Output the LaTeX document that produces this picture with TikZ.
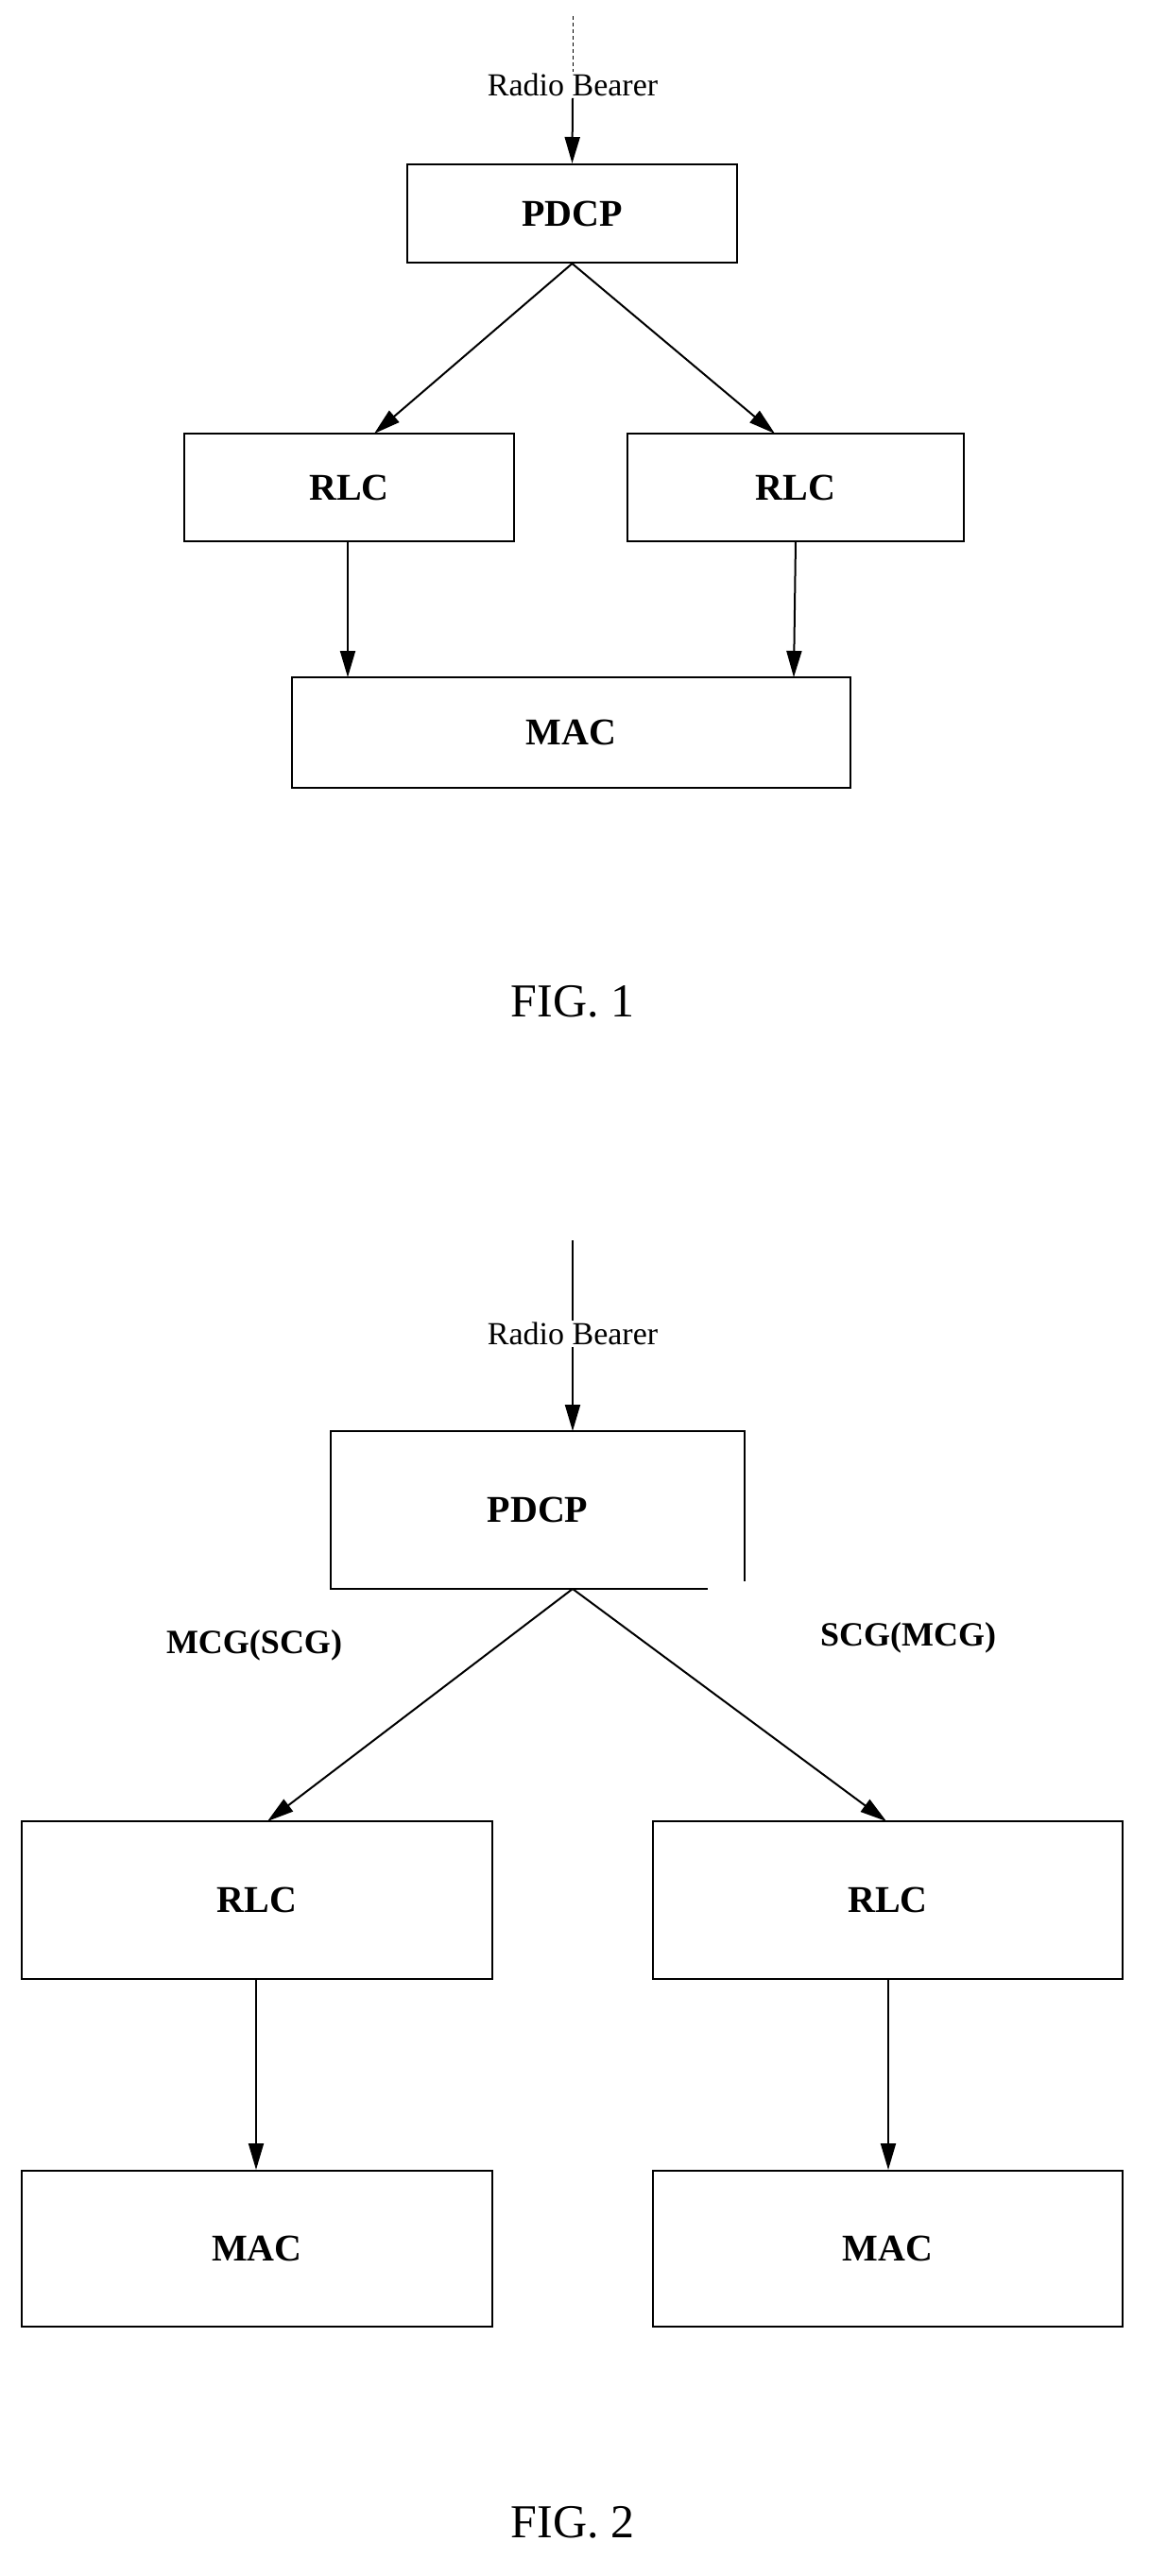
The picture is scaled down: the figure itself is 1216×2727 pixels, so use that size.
\documentclass[tikz,border=0pt]{standalone}
\usepackage{fontspec}
\setmainfont{Liberation Serif}
\usetikzlibrary{arrows.meta}
\begin{document}
\begin{tikzpicture}[x=1pt,y=-1pt,line width=2pt,
  box/.style={draw,inner sep=0pt,font=\fontsize{40}{40}\selectfont\bfseries},
  lbl/.style={font=\fontsize{34}{34}\selectfont},
  arr/.style={-{Triangle[length=28pt,width=16pt]}}]
  \useasboundingbox (0,0) rectangle (1216,2727);

  %------ FIG. 1
  \coordinate (top1) at (606,17);
  \node[lbl,fill=white,inner sep=1pt] (rb1) at (606,90) {Radio Bearer};
  \node[box,minimum width=349pt,minimum height=104pt] (pdcp1) at (605.5,226) {PDCP};
  \node[box,minimum width=349pt,minimum height=114pt] (rlc1a) at (369.5,516) {RLC};
  \node[box,minimum width=356pt,minimum height=114pt] (rlc1b) at (842,516) {RLC};
  \node[box,minimum width=591pt,minimum height=117pt] (mac1) at (604.5,775.5) {MAC};
  \node[lbl,font=\fontsize{50}{50}\selectfont] (fig1) at (606,1060) {FIG. 1};

  \draw[dash pattern=on 4pt off 3pt,line width=1pt] (top1) -- (rb1.north);
  \draw[arr] (rb1.south) -- (pdcp1.north);
  \draw[arr] (pdcp1.south) -- (396,459);
  \draw[arr] (pdcp1.south) -- (820,459);
  \draw[arr] (368,573) -- (368,717);
  \draw[arr] (842,573) -- (840,717);

  %------ FIG. 2
  \coordinate (top2) at (606,1313);
  \node[lbl,fill=white,inner sep=1pt] (rb2) at (606,1412) {Radio Bearer};
  \node[box,draw=none,minimum width=438pt,minimum height=167pt] (pdcp2) at (569,1598.5) {PDCP};
  \draw (749,1682) -- (350,1682) -- (350,1515) -- (788,1515) -- (788,1674);
  \node[box,draw=none] (mcg) at (269,1742) {\fontsize{36}{36}\selectfont MCG(SCG)};
  \node[box,draw=none] (scg) at (961,1734) {\fontsize{36}{36}\selectfont SCG(MCG)};
  \node[box,minimum width=498pt,minimum height=167pt] (rlc2a) at (272,2011.5) {RLC};
  \node[box,minimum width=497pt,minimum height=167pt] (rlc2b) at (939.5,2011.5) {RLC};
  \node[box,minimum width=498pt,minimum height=165pt] (mac2a) at (272,2380.5) {MAC};
  \node[box,minimum width=497pt,minimum height=165pt] (mac2b) at (939.5,2380.5) {MAC};
  \node[lbl,font=\fontsize{50}{50}\selectfont] (fig2) at (606,2670) {FIG. 2};

  \draw (top2) -- (rb2.north);
  \draw[arr] (rb2.south) -- (606,1515);
  \draw[arr] (606,1682) -- (283,1928);
  \draw[arr] (606,1682) -- (938,1928);
  \draw[arr] (271,2095) -- (mac2a.north -| 271,0);
  \draw[arr] (940,2095) -- (mac2b.north -| 940,0);
\end{tikzpicture}
\end{document}
